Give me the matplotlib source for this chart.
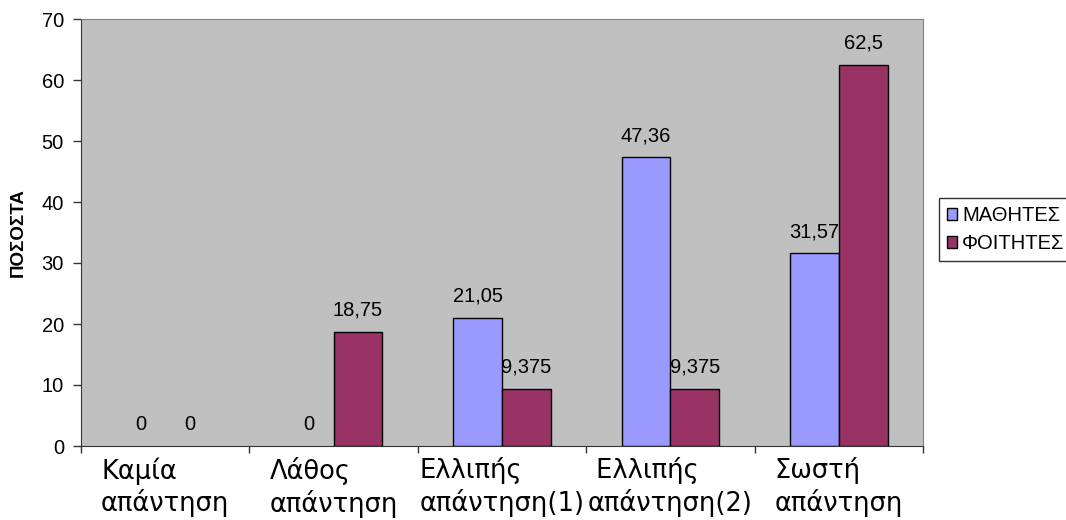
import numpy as np
import matplotlib
matplotlib.use('Agg')
import matplotlib.pyplot as plt
from matplotlib.patches import Patch

categories = ['Καμία\nαπάντηση', 'Λάθος\nαπάντηση', 'Ελλιπής\nαπάντηση(1)',
              ' Ελλιπής\nαπάντηση(2)', 'Σωστή\nαπάντηση']
mathites = [0, 0, 21.05, 47.36, 31.57]
foitites = [0, 18.75, 9.375, 9.375, 62.5]
series_names = ['ΜΑΘΗΤΕΣ', 'ΦΟΙΤΗΤΕΣ']
yticks = [0, 10, 20, 30, 40, 50, 60, 70]

lavender = '#9999FF'
plum = '#993366'

plt.rcParams['font.family'] = ['Liberation Sans', 'DejaVu Sans']

fig = plt.figure(figsize=(10.66, 5.2), dpi=100)
ax = fig.add_axes([81 / 1066, 74 / 520, 842 / 1066, 427 / 520])
ax.set_facecolor('#C0C0C0')

x = np.arange(len(categories))
w = 0.29
# zero-height bars get no outline
b1 = ax.bar(x - w / 2, mathites, w, color=lavender, edgecolor='black',
            linewidth=[1 if v else 0 for v in mathites], zorder=2)
b2 = ax.bar(x + w / 2, foitites, w, color=plum, edgecolor='black',
            linewidth=[1 if v else 0 for v in foitites], zorder=2)

# value labels, comma as decimal separator
for bars, vals in [(b1, mathites), (b2, foitites)]:
    for rect, v in zip(bars, vals):
        ax.annotate(f'{v:g}'.replace('.', ','),
                    (rect.get_x() + rect.get_width() / 2, v),
                    xytext=(0, 11.5), textcoords='offset points',
                    ha='center', va='baseline', fontsize=14.5, zorder=1)

ax.set_xlim(-0.5, len(categories) - 0.5)
ax.set_ylim(0, 70)
ax.set_yticks(yticks)
ax.tick_params(axis='y', direction='out', length=5.8, width=1, pad=6.5,
               labelsize=14.5, color='#333333')

# ticks on category boundaries, labels in the middle
ax.set_xticks(np.arange(-0.5, len(categories), 1.0))
ax.set_xticklabels([])
ax.set_xticks(x, categories, minor=True)
ax.tick_params(axis='x', which='major', direction='out', length=5, width=1, color='#333333')
ax.tick_params(axis='x', which='minor', length=0, pad=8)
for lbl in ax.get_xticklabels(minor=True):
    lbl.set_family('DejaVu Sans')
    lbl.set_fontsize(18.5)
    lbl.set_multialignment('left')
    lbl.set_linespacing(1.2)

ax.set_ylabel('ΠΟΣΟΣΤΑ', fontsize=13.5, fontweight='bold', labelpad=11)

for s in ['left', 'bottom']:
    ax.spines[s].set_color('#333333')
for s in ['top', 'right']:
    ax.spines[s].set_color('#808080')

handles = [Patch(facecolor=lavender, edgecolor='black'),
           Patch(facecolor=plum, edgecolor='black')]
leg = fig.legend(handles, series_names, loc='upper left',
                 bbox_to_anchor=(939 / 1066, 1 - 198 / 520),
                 fontsize=14.5, frameon=True, fancybox=False,
                 handlelength=0.5, handleheight=0.5, handletextpad=0.25,
                 labelspacing=0.45, borderpad=0.4, borderaxespad=0)
leg.get_frame().set_edgecolor('black')
leg.get_frame().set_linewidth(1)

fig.savefig('out.png', dpi=100)
